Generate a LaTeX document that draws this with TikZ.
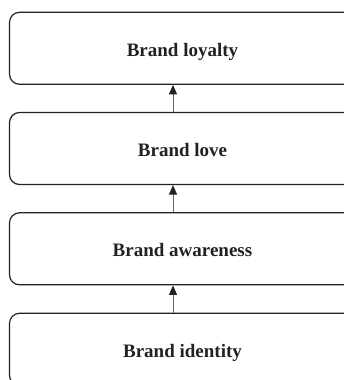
\documentclass[tikz,border=0pt]{standalone}
\usepackage{fontspec}
\setmainfont{Liberation Serif}
\usetikzlibrary{arrows.meta}
\definecolor{ink}{HTML}{222222}
\definecolor{arrline}{HTML}{666666}
\tikzset{
  box/.style={draw=ink, line width=1.2pt, rounded corners=10pt, minimum width=346pt, minimum height=72pt, inner sep=0pt, text height=16pt, text depth=0pt, font=\fontsize{19}{22}\selectfont\bfseries, text=ink},
  arr/.style={draw=arrline, line width=0.9pt, -{Triangle[length=9.5pt,width=8pt,color=ink]}}
}
\begin{document}
\begin{tikzpicture}[x=1pt,y=-1pt]
\useasboundingbox (0,0) rectangle (344,380);
\clip (0,0) rectangle (344,380);
\node[box] (b1) at (182.5,48.3) {Brand loyalty};
\node[box] (b2) at (182.5,148.5) {Brand love};
\node[box] (b3) at (182.5,248.8) {Brand awareness};
\node[box] (b4) at (182.5,349.3) {Brand identity};
\coordinate (ax) at (173,0);
\draw[arr] (b2.north -| ax) -- (b1.south -| ax);
\draw[arr] (b3.north -| ax) -- (b2.south -| ax);
\draw[arr] (b4.north -| ax) -- (b3.south -| ax);
\end{tikzpicture}
\end{document}
